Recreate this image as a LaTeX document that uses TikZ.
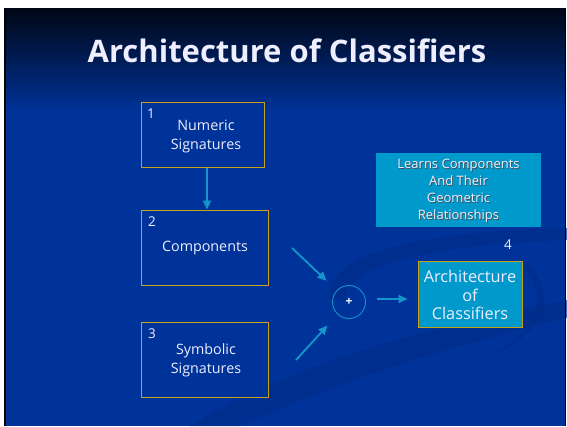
\documentclass[tikz,border=0pt]{standalone}
\usepackage{fontspec}
\setmainfont{Open Sans}
\usetikzlibrary{arrows.meta}
\definecolor{bgblue}{RGB}{0,51,153}
\definecolor{darkband}{RGB}{0,44,138}
\definecolor{topdark}{RGB}{0,6,20}
\definecolor{cyanbox}{RGB}{0,153,204}
\definecolor{arrowc}{RGB}{20,150,205}
\definecolor{gold}{RGB}{200,160,20}
\definecolor{txt}{RGB}{238,238,255}
\newcommand{\shadowtext}[3]{\makebox[0pt][l]{\raisebox{-#1}{\hspace{#1}\textcolor{#2}{#3}}}#3}
\tikzset{
  plainbox/.style={draw=gold, line width=1pt, fill=bgblue, minimum width=#1, inner sep=0pt},
  boxtext/.style={text=txt, align=center, font=\fontsize{14.3}{19}\selectfont},
  numlabel/.style={text=txt, font=\fontsize{13.5}{15}\selectfont, inner sep=0pt},
  arr/.style={draw=arrowc, line width=1.8pt, -{Triangle[length=9pt,width=8pt]}},
  learntext/.style={align=center, font=\fontsize{13}{17}\selectfont},
}
\begin{document}
\begin{tikzpicture}[x=1pt,y=-1pt]
\useasboundingbox (0,0) rectangle (567,426);
\fill[white] (0,0) rectangle (567,426);
% slide background
\fill[bgblue] (5,8) rectangle (565,426);
\shade[top color=topdark, bottom color=bgblue] (5,8) rectangle (565,112);
% decorative swooshes
\fill[darkband, opacity=0.7] (190,426) .. controls (300,360) and (420,330) .. (567,300)
  -- (567,318) .. controls (430,350) and (320,390) .. (240,426) -- cycle;
\fill[darkband, opacity=0.7] (330,300) .. controls (320,250) and (440,230) .. (567,228)
  -- (567,240) .. controls (450,245) and (345,260) .. (345,300) -- cycle;
\fill[darkband, opacity=0.6] (530,265) .. controls (560,300) and (540,340) .. (480,360)
  -- (470,365) .. controls (540,335) and (550,300) .. (525,270) -- cycle;
\draw[black, line width=1.2pt] (5,8) -- (5,426);
\draw[black, line width=0.8pt] (565,8) -- (565,426);
% title
\node (title) [text=txt, font=\bfseries\fontsize{31}{34}\selectfont] at (287,50.5) {Architecture of Classifiers};
% boxes
\node (box1) [plainbox=123pt, minimum height=65pt] at (202.5,134.5) {};
\node (box2) [plainbox=127pt, minimum height=75pt] at (204.5,247.5) {};
\node (box3) [plainbox=127pt, minimum height=75pt] at (204.5,359.5) {};
\node (t1) [boxtext] at (206,136) {Numeric\\Signatures};
\node (t2) [boxtext] at (205,248) {Components};
\node (t3) [boxtext] at (206,360) {Symbolic\\Signatures};
\node (n1) [numlabel] at (151,114) {1};
\node (n2) [numlabel] at (152,222) {2};
\node (n3) [numlabel] at (152,334) {3};
\node (n4) [numlabel] at (508,245) {4};
% learn box
\node (learn) [fill=cyanbox, minimum width=165pt, minimum height=74pt, inner sep=0pt] at (458.5,190) {};
\node (lt) [text=txt, learntext] at (458.5,191) {\shadowtext{0.8pt}{black!70}{Learns Components}\\\shadowtext{0.8pt}{black!70}{And Their}\\\shadowtext{0.8pt}{black!70}{Geometric}\\\shadowtext{0.8pt}{black!70}{Relationships}};
% architecture box
\node (box4) [draw=gold, line width=1pt, fill=cyanbox, minimum width=104pt, minimum height=66pt, inner sep=0pt] at (470,294) {};
\node (t4) [text=txt, align=center, font=\fontsize{16.3}{18.5}\selectfont] at (470,295) {Architecture\\of\\Classifiers};
% sum circle
\node (circ) [circle, draw=arrowc, line width=0.9pt, minimum size=33pt, inner sep=0pt, font=\bfseries\fontsize{12}{12}\selectfont, text=white] at (349,302) {+};
% connectors
\draw[arr] ([xshift=4.5pt]box1.south) -- ([xshift=2.5pt]box2.north);
\coordinate (s1) at (292,248);
\coordinate (s2) at (296,360);
\draw[arr, shorten >=14pt] (s1) -- (circ);
\draw[arr, shorten >=15pt] (s2) -- (circ);
\draw[arr, shorten <=11.5pt, shorten >=10pt] ([yshift=3pt]circ.east) -- ([yshift=3pt]circ.east -| box4.west);
\end{tikzpicture}
\end{document}
